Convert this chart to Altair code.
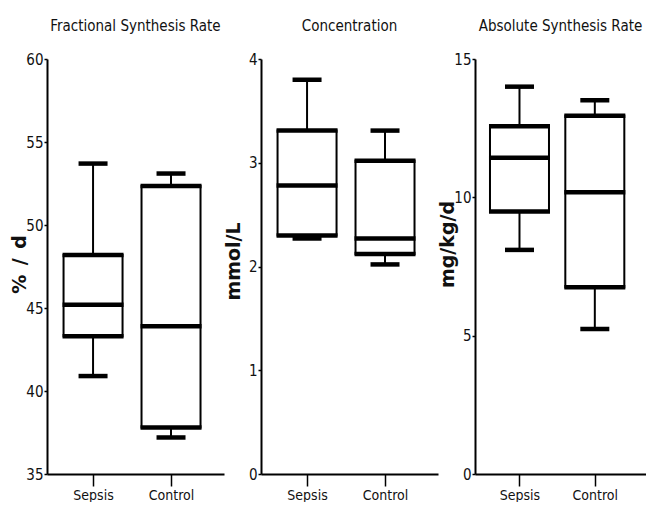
import altair as alt
import pandas as pd

groups = ["Sepsis", "Control"]

# Fractional Synthesis Rate (% / d)
fsr_min = [40.9, 37.2]
fsr_q1 = [43.3, 37.8]
fsr_med = [45.2, 43.9]
fsr_q3 = [48.2, 52.35]
fsr_max = [53.7, 53.1]

# Concentration (mmol/L)
conc_min = [2.27, 2.02]
conc_q1 = [2.30, 2.12]
conc_med = [2.78, 2.27]
conc_q3 = [3.31, 3.02]
conc_max = [3.80, 3.31]

# Absolute Synthesis Rate (mg/kg/d)
asr_min = [8.1, 5.24]
asr_q1 = [9.49, 6.75]
asr_med = [11.43, 10.18]
asr_q3 = [12.57, 12.95]
asr_max = [14.0, 13.51]

NARROW = "DejaVu Sans Condensed, Liberation Sans, sans-serif"
WIDE = "DejaVu Sans, Liberation Sans, sans-serif"
INK = "#111111"


def panel(title, ytitle, title_y, domain, ticks, mn, q1, md, q3, mx, width):
    df = pd.DataFrame({"group": groups, "lo": mn, "q1": q1, "med": md,
                       "q3": q3, "hi": mx})
    xs = alt.Scale(type="point", padding=0.635, align=0.465)
    xaxis = alt.Axis(labelAngle=0, tickSize=12, tickWidth=1.5, labelPadding=2,
                     labelFontSize=14, labelFont=NARROW, domainWidth=2,
                     title=None)
    X = alt.X("group:N", sort=groups, scale=xs, axis=xaxis, title=None)
    ys = alt.Scale(domain=domain, nice=False, zero=False)
    yaxis = alt.Axis(values=ticks, tickSize=3, tickWidth=1.5, labelPadding=1,
                     labelFontSize=15, labelFont=NARROW, title=ytitle,
                     titleFont=WIDE, titleFontSize=19, titleFontWeight="bold",
                     titlePadding=0, titleY=title_y,
                     minExtent=18, maxExtent=18, format="d",
                     domainWidth=2, grid=False)

    def Y(f):
        return alt.Y(f + ":Q", scale=ys, axis=yaxis, title=ytitle)

    base = alt.Chart(df)
    upper = base.mark_rule(color="black", strokeWidth=2).encode(
        x=X, y=Y("q3"), y2="hi:Q")
    lower = base.mark_rule(color="black", strokeWidth=2).encode(
        x=X, y=Y("lo"), y2="q1:Q")
    box = base.mark_bar(fill="white", stroke="black", strokeWidth=2,
                        size=59).encode(x=X, y=Y("q1"), y2="q3:Q")
    layers = [upper, lower, box]
    for f, s in [("q1", 61), ("q3", 61), ("med", 61), ("lo", 29), ("hi", 29)]:
        layers.append(base.mark_tick(color="black", opacity=1, thickness=4.5,
                                     size=s, orient="horizontal").encode(
            x=X, y=Y(f)))
    return alt.layer(*layers).properties(
        width=width, height=415,
        title=alt.TitleParams(title, frame="group", offset=3,
                              baseline="bottom"))


p1 = panel("Fractional Synthesis Rate", "%\u2002/\u2002d", 205, [35, 60],
           [35, 40, 45, 50, 55, 60],
           fsr_min, fsr_q1, fsr_med, fsr_q3, fsr_max, 177)
p2 = panel("Concentration", "mmol/L", 202, [0, 4], [0, 1, 2, 3, 4],
           conc_min, conc_q1, conc_med, conc_q3, conc_max, 177)
p3 = panel("Absolute Synthesis Rate", "mg/kg/d", 185, [0, 15], [0, 5, 10, 15],
           asr_min, asr_q1, asr_med, asr_q3, asr_max, 171)

chart = alt.hconcat(p1, p2, p3, spacing=0).properties(
    padding={"left": 2, "top": 11, "right": 0, "bottom": 0}
).configure_view(strokeWidth=0).configure_axis(
    domainColor="black", tickColor="black", labelColor=INK, titleColor=INK
).configure_title(
    font=NARROW, fontSize=15, fontWeight="normal", anchor="middle", color=INK
)

chart.save("out.html", embed_options={"renderer": "svg", "actions": False})
